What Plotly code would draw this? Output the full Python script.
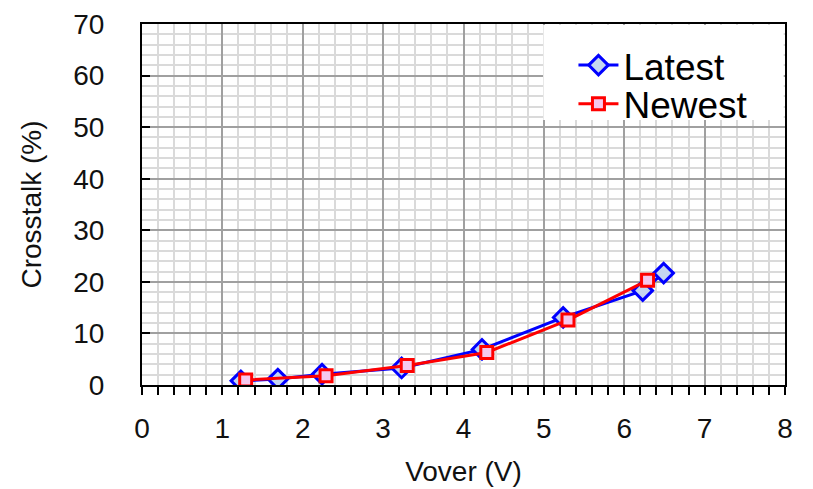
import plotly.graph_objects as go

latest_x = [1.23, 1.69, 2.24, 3.23, 4.23, 5.24, 6.23, 6.49]
latest_y = [0.8, 1.15, 2.1, 3.3, 6.9, 13.1, 18.3, 21.7]
newest_x = [1.29, 2.29, 3.30, 4.29, 5.30, 6.29]
newest_y = [0.96, 1.8, 3.8, 6.3, 12.6, 20.3]

x_ticks = [0, 1, 2, 3, 4, 5, 6, 7, 8]
y_ticks = [0, 10, 20, 30, 40, 50, 60, 70]

font = "Liberation Sans, Arial, sans-serif"

fig = go.Figure()
fig.add_trace(go.Scatter(
    x=latest_x, y=latest_y, mode="lines+markers", name="Latest",
    line=dict(color="#0000ff", width=3), legend="legend",
    marker=dict(symbol="diamond", size=15, color="#c5d6f0",
                line=dict(color="#0000ff", width=3)),
))
fig.add_trace(go.Scatter(
    x=newest_x, y=newest_y, mode="lines+markers", name="Newest",
    line=dict(color="#ff0000", width=3), legend="legend2",
    marker=dict(symbol="square", size=12, color="#f5c8ee",
                line=dict(color="#ff0000", width=3)),
))

leg_common = dict(xanchor="left", yanchor="middle", bgcolor="rgba(0,0,0,0)",
                  borderwidth=0, font=dict(size=37, family=font, color="black"),
                  itemwidth=40)

fig.update_layout(
    width=813, height=489,
    margin=dict(l=134, r=36, t=16, b=112),
    paper_bgcolor="white", plot_bgcolor="white",
    font=dict(family=font, color="#111111", size=28),
    showlegend=True,
    legend=dict(x=0.671, y=0.885, **leg_common),
    legend2=dict(x=0.671, y=0.778, **leg_common),
    shapes=[dict(type="rect", xref="paper", yref="paper",
                 x0=0.624, x1=0.998, y0=0.734, y1=0.997,
                 fillcolor="white", line=dict(width=0), layer="above")],
)
fig.update_xaxes(
    range=[0, 8], tickvals=x_ticks, ticktext=[str(v) for v in x_ticks],
    showline=True, linecolor="black", linewidth=2, mirror=True,
    ticks="outside", ticklen=8, tickwidth=1.5, tickcolor="black",
    showgrid=True, gridcolor="#a0a0a0", gridwidth=1.5,
    minor=dict(dtick=0.2, ticks="outside", ticklen=8, tickwidth=1.5,
               tickcolor="black", showgrid=True, gridcolor="#dadada", gridwidth=1.5),
    zeroline=False, ticklabelstandoff=9, automargin=False,
    ticklabeloverflow="allow",
    title=dict(text="Vover (V)", font=dict(size=28), standoff=19),
)
fig.update_yaxes(
    range=[0, 70], tickvals=y_ticks, ticktext=[str(v) for v in y_ticks],
    showline=True, linecolor="black", linewidth=2, mirror=True,
    ticks="inside", ticklen=8, tickwidth=2, tickcolor="black",
    showgrid=True, gridcolor="#a0a0a0", gridwidth=1.5,
    minor=dict(dtick=2, ticks="", showgrid=True, gridcolor="#dadada", gridwidth=1.5),
    zeroline=False, ticklabelstandoff=30, automargin=False,
    ticklabeloverflow="allow",
    title=dict(text="Crosstalk (%)", font=dict(size=28), standoff=23),
)

fig.write_html("out.html")
